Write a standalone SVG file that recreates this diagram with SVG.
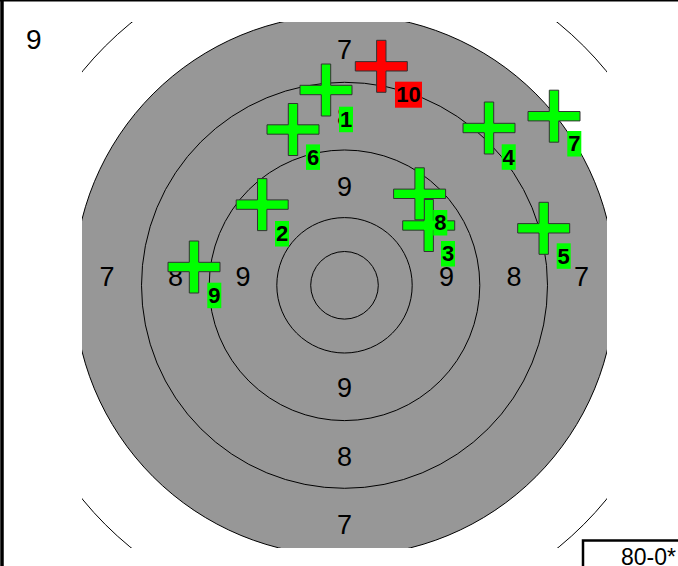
<svg xmlns="http://www.w3.org/2000/svg" xmlns:xlink="http://www.w3.org/1999/xlink" width="678" height="566" viewBox="0 0 678 566">
<style>
.ring{fill:none;stroke:#000;stroke-width:1}
.rn{font-family:"Liberation Sans",Arial,sans-serif;font-size:27px;fill:#000;text-anchor:middle}
.lb{font-family:"Liberation Sans",Arial,sans-serif;font-size:22px;font-weight:bold;fill:#000;text-anchor:middle}
.cross{stroke:#333;stroke-width:1}
.g{fill:#00ff00}
.r{fill:#ff0000}
</style>
<defs>
<clipPath id="clip"><rect x="82" y="22" width="525" height="526"/></clipPath>
<path id="x" d="M -4.7 -26 H 4.7 V -4.7 H 26 V 4.7 H 4.7 V 26 H -4.7 V 4.7 H -26 V -4.7 H -4.7 Z"/>
</defs>
<rect x="0" y="0" width="678" height="566" fill="#fff"/>
<line x1="2" y1="0" x2="2" y2="566" stroke="#000" stroke-width="3.5"/>
<line x1="0" y1="0.75" x2="678" y2="0.75" stroke="#000" stroke-width="1.5"/>
<text x="26" y="49" font-family="Liberation Sans, Arial, sans-serif" font-size="28" fill="#000">9</text>
<g id="target" clip-path="url(#clip)">
<circle class="ring" cx="344.5" cy="285.3" r="338.3"/>
<circle cx="344.5" cy="285.3" r="270.7" fill="#979797" stroke="#000" stroke-width="1"/>
<circle class="ring" cx="344.5" cy="285.3" r="203"/>
<circle class="ring" cx="344.5" cy="285.3" r="135.3"/>
<circle class="ring" cx="344.5" cy="285.3" r="67.7"/>
<circle class="ring" cx="344.5" cy="285.3" r="33.8"/>
</g>
<g id="ring-numbers">
<text class="rn" x="344.5" y="59">7</text>
<text class="rn" x="344.5" y="126">8</text>
<text class="rn" x="344.5" y="196">9</text>
<text class="rn" x="344.5" y="397">9</text>
<text class="rn" x="344.5" y="466">8</text>
<text class="rn" x="344.5" y="534">7</text>
<text class="rn" x="107" y="286">7</text>
<text class="rn" x="175.5" y="286">8</text>
<text class="rn" x="243" y="286">9</text>
<text class="rn" x="446.5" y="286">9</text>
<text class="rn" x="514" y="286">8</text>
<text class="rn" x="581.5" y="286">7</text>
</g>
<g id="shot1"><use href="#x" xlink:href="#x" class="cross g" x="326" y="90"/><rect class="g" x="339" y="106.7" width="14" height="25.5"/><text class="lb" x="346" y="127">1</text></g>
<g id="shot2"><use href="#x" xlink:href="#x" class="cross g" x="262.2" y="204.6"/><rect class="g" x="275" y="221" width="14" height="25.5"/><text class="lb" x="282" y="241.3">2</text></g>
<g id="shot3"><use href="#x" xlink:href="#x" class="cross g" x="428.7" y="225.5"/><rect class="g" x="441" y="241" width="14" height="25.5"/><text class="lb" x="448" y="261.3">3</text></g>
<g id="shot4"><use href="#x" xlink:href="#x" class="cross g" x="489" y="128"/><rect class="g" x="501.7" y="144.3" width="14" height="25.5"/><text class="lb" x="508.7" y="164.6">4</text></g>
<g id="shot5"><use href="#x" xlink:href="#x" class="cross g" x="543.7" y="228.3"/><rect class="g" x="556.7" y="243.3" width="14" height="25.5"/><text class="lb" x="563.7" y="263.6">5</text></g>
<g id="shot6"><use href="#x" xlink:href="#x" class="cross g" x="293" y="129.5"/><rect class="g" x="306" y="144.4" width="14" height="25.5"/><text class="lb" x="313" y="164.7">6</text></g>
<g id="shot7"><use href="#x" xlink:href="#x" class="cross g" x="554" y="116.2"/><rect class="g" x="567.3" y="131" width="14" height="25.5"/><text class="lb" x="574.3" y="151.3">7</text></g>
<g id="shot8"><use href="#x" xlink:href="#x" class="cross g" x="419.6" y="193.8"/><rect class="g" x="433.3" y="210" width="14" height="25.5"/><text class="lb" x="440.3" y="230.3">8</text></g>
<g id="shot9"><use href="#x" xlink:href="#x" class="cross g" x="194" y="267"/><rect class="g" x="207.3" y="282.7" width="14" height="25.5"/><text class="lb" x="214.3" y="303">9</text></g>
<g id="shot10"><use href="#x" xlink:href="#x" class="cross r" x="381.3" y="66.3"/><rect class="r" x="395" y="81.7" width="27" height="26"/><text class="lb" x="408.5" y="101.7">10</text></g>
<g id="score">
<rect x="583" y="540.5" width="110" height="40" fill="#fff" stroke="#000" stroke-width="2.5"/>
<text x="621" y="565" font-family="Liberation Sans, Arial, sans-serif" font-size="23" fill="#000">80-0*</text>
</g>
</svg>
